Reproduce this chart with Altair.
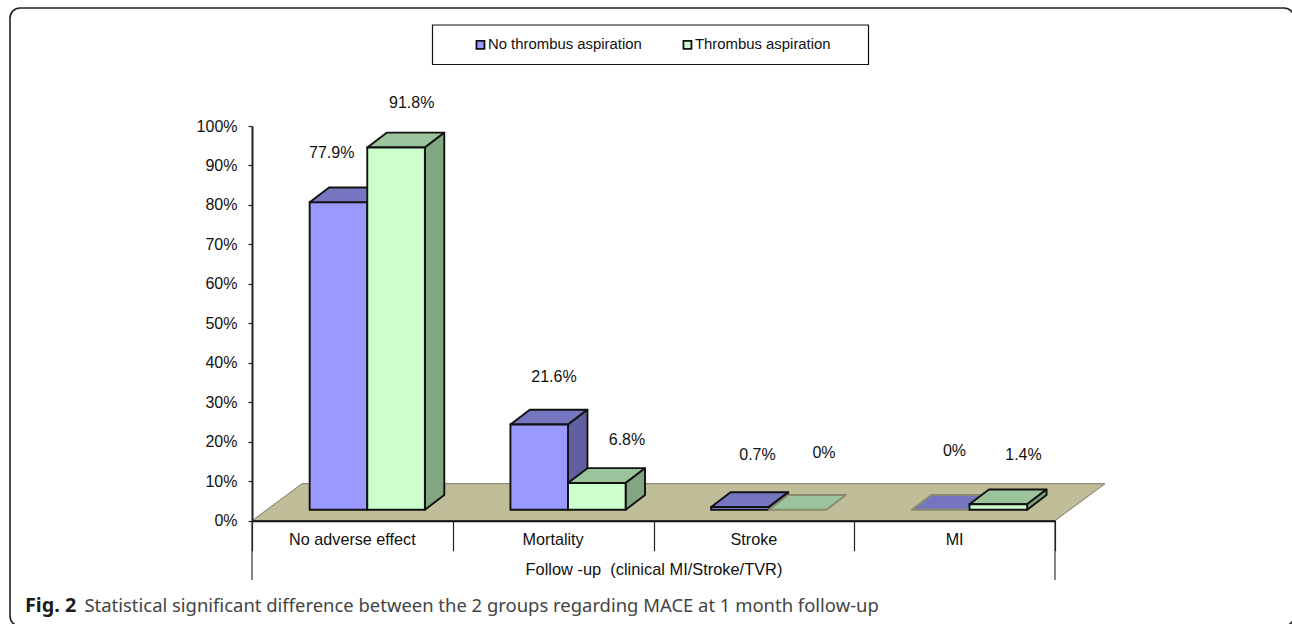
import altair as alt
import pandas as pd

# Values shown on the chart (percent of patients)
categories = ["No adverse effect", "Mortality", "Stroke", "MI"]
no_aspiration = [77.9, 21.6, 0.7, 0]
with_aspiration = [91.8, 6.8, 0, 1.4]
group_names = ["No thrombus aspiration", "Thrombus aspiration"]
y_ticks = list(range(0, 101, 10))

# Drawing geometry: the plot box, then the pseudo-3D projection in pixels
LEFT, TOP, WIDTH, HEIGHT = 252, 126, 803, 394.7
PAGE_W, PAGE_H = 1292, 624
PX_X = 4 / WIDTH            # category units per pixel
PX_Y = 100 / HEIGHT         # percent per pixel
BAR_W = 57.6 * PX_X
BAR_DX, BAR_DY = 19.4 * PX_X, 14.8 * PX_Y
BASE_Y = 10.9 * PX_Y        # bars stand on the middle of the floor
BAR_SHIFT = 14.9 * PX_X     # and sit slightly right of the category centre
FLOOR_DX, FLOOR_DY = 50 * PX_X, 37 * PX_Y
LABEL_SIZE = 16
EDGE_WIDTH = 1.9


def page_x(px):
    return (px - LEFT) * PX_X


def page_y(px):
    return (TOP + HEIGHT - px) * PX_Y


def faces(values, series):
    """Front, top and side faces of one series of bars, in data units."""
    front, top, side = [], [], []
    for i, v in enumerate(values):
        x0 = i + 0.5 + BAR_SHIFT + (series - 1) * BAR_W
        x1 = x0 + BAR_W
        y1 = BASE_Y + v
        key = f"{series}-{i}"
        outline = "#111111" if v > 0 else "#8a8a70"
        top += [
            {"face": key, "y": y1, "a": x0, "b": x1, "outline": outline},
            {"face": key, "y": y1 + BAR_DY, "a": x0 + BAR_DX, "b": x1 + BAR_DX, "outline": outline},
        ]
        if v > 0:
            front.append({"a": x0, "b": x1, "lo": BASE_Y, "hi": y1, "group": group_names[series]})
            side += [
                {"face": key, "x": x1, "lo": BASE_Y, "hi": y1},
                {"face": key, "x": x1 + BAR_DX, "lo": BASE_Y + BAR_DY, "hi": y1 + BAR_DY},
            ]
    return pd.DataFrame(front), pd.DataFrame(top), pd.DataFrame(side)


x_plain = alt.X("x:Q", scale=alt.Scale(domain=[0, 4]), axis=None, stack=None)
y_plain = alt.Y("y:Q", scale=alt.Scale(domain=[0, 100]), axis=None, stack=None)

color_scale = alt.Scale(domain=group_names, range=["#9999FF", "#CCFFCC"])


def bar_layers(values, series, top_fill, side_fill, legend):
    front, top, side = faces(values, series)
    top_layer = alt.Chart(top).mark_area(orient="horizontal", strokeWidth=EDGE_WIDTH, strokeJoin="round", fill=top_fill).encode(
        y=alt.Y("y:Q", stack=None, axis=None),
        x=alt.X("a:Q", stack=None, axis=None),
        x2="b:Q",
        detail="face:N",
        stroke=alt.Stroke("outline:N", scale=None),
    )
    side_layer = alt.Chart(side).mark_area(stroke="#111111", strokeWidth=EDGE_WIDTH, strokeJoin="round", fill=side_fill).encode(
        x=alt.X("x:Q", stack=None, axis=None),
        y=alt.Y("lo:Q", stack=None, axis=None),
        y2="hi:Q",
        detail="face:N",
    )
    front_layer = alt.Chart(front).mark_rect(stroke="#111111", strokeWidth=EDGE_WIDTH).encode(
        x=alt.X("a:Q", axis=None),
        x2="b:Q",
        y=alt.Y("lo:Q", axis=None),
        y2="hi:Q",
        color=alt.Color("group:N", scale=color_scale, legend=legend),
    )
    return [top_layer, side_layer, front_layer]


legend = alt.Legend(
    title=None,
    orient="none",
    legendX=473 - LEFT,
    legendY=37 - TOP,
    direction="horizontal",
    symbolType="square",
    symbolSize=64,
    symbolStrokeColor="#111111",
    symbolStrokeWidth=1.8,
    symbolOpacity=1,
    labelFont="Liberation Sans",
    labelFontSize=14.9,
    labelColor="#111111",
    labelOffset=0,
    columnPadding=37,
    padding=0,
)

# Box that holds the legend
legend_box = alt.Chart(pd.DataFrame({
    "a": [page_x(432.5)], "b": [page_x(868.5)], "lo": [page_y(64.5)], "hi": [page_y(25)],
})).mark_rect(fill="white", stroke="#111111", strokeWidth=1.2).encode(
    x=alt.X("a:Q", axis=None), x2="b:Q", y=alt.Y("lo:Q", axis=None), y2="hi:Q"
)

# Floor of the 3D box; this layer also carries both axes
floor = pd.DataFrame([
    {"y": 0, "a": 0, "b": 4},
    {"y": FLOOR_DY, "a": FLOOR_DX, "b": 4 + FLOOR_DX},
])
floor_layer = alt.Chart(floor).mark_area(orient="horizontal", fill="#C0BE98", stroke="#77776a", strokeWidth=1).encode(
    y=alt.Y(
        "y:Q",
        stack=None,
        scale=alt.Scale(domain=[0, 100]),
        title=None,
        axis=alt.Axis(
            values=y_ticks,
            labelExpr="datum.value + '%'",
            labelFont="Liberation Sans",
            labelFontSize=LABEL_SIZE,
            labelColor="#111111",
            labelPadding=11,
            tickSize=4,
            tickColor="#222222",
            tickWidth=1.2,
            domainColor="#222222",
            domainWidth=2,
            grid=False,
            zindex=1,
        ),
    ),
    x=alt.X(
        "a:Q",
        stack=None,
        scale=alt.Scale(domain=[0, 4]),
        title="Follow -up \u00a0(clinical MI/Stroke/TVR)",
        axis=alt.Axis(
            values=[0, 1, 2, 3, 4],
            labels=False,
            tickSize=30,
            tickColor="#222222",
            tickWidth=1.2,
            domainColor="#111111",
            domainWidth=2,
            grid=False,
            zindex=1,
            titleFont="Liberation Sans",
            titleFontSize=16.4,
            titleFontWeight="normal",
            titleColor="#111111",
            titlePadding=10,
        ),
    ),
    x2="b:Q",
)

# Taller dividers at both ends of the category axis
edge_rule = alt.Chart(pd.DataFrame({"x": [0, 4], "y": [0, 0], "y2": [page_y(580)] * 2})).mark_rule(
    color="#333333", strokeWidth=1.2
).encode(x=x_plain, y=alt.Y("y:Q", axis=None), y2="y2:Q")

# Category names under the axis
cat_df = pd.DataFrame({
    "x": [i + 0.5 for i in range(len(categories))],
    "y": [page_y(539.5)] * len(categories),
    "label": categories,
})
cat_text = alt.Chart(cat_df).mark_text(font="Liberation Sans", fontSize=16.2, color="#111111", baseline="middle").encode(
    x=x_plain, y=y_plain, text="label:N"
)

# Value labels float above the bars; each has a hand-placed anchor in pixels
label_px = [(331.7, 152.7), (411.7, 102.7), (554, 377), (627, 440), (757.5, 454.5), (824, 452.5), (954.5, 451), (1023.5, 455)]
label_values = [
    no_aspiration[0], with_aspiration[0],
    no_aspiration[1], with_aspiration[1],
    no_aspiration[2], with_aspiration[2],
    no_aspiration[3], with_aspiration[3],
]
value_df = pd.DataFrame({
    "x": [page_x(p[0]) for p in label_px],
    "y": [page_y(p[1]) for p in label_px],
    "label": [f"{v:g}%" for v in label_values],
})
value_text = alt.Chart(value_df).mark_text(font="Liberation Sans", fontSize=LABEL_SIZE, color="#111111", baseline="middle").encode(
    x=x_plain, y=y_plain, text="label:N"
)

# Rounded panel border, running off the page on the right and at the bottom
frame = alt.Chart(pd.DataFrame({"a": [page_x(10)], "b": [page_x(1294)], "lo": [page_y(626)], "hi": [page_y(8)]})).mark_rect(
    fill=None, fillOpacity=0, stroke="#222222", strokeWidth=1.6, cornerRadius=10
).encode(x=alt.X("a:Q", axis=None), x2="b:Q", y=alt.Y("lo:Q", axis=None), y2="hi:Q")

# Figure caption
cap_bold = alt.Chart(pd.DataFrame({"x": [page_x(25)], "y": [page_y(606)], "t": ["Fig. 2"]})).mark_text(
    font="Noto Sans", fontSize=19.8, fontWeight="bold", color="#1c1c1c", align="left", baseline="middle"
).encode(x=x_plain, y=y_plain, text="t:N")
cap_text = alt.Chart(pd.DataFrame({
    "x": [page_x(84.5)],
    "y": [page_y(606)],
    "t": ["Statistical significant difference between the 2 groups regarding MACE at 1 month follow-up"],
})).mark_text(font="Noto Sans", fontSize=18.45, color="#444444", align="left", baseline="middle").encode(
    x=x_plain, y=y_plain, text="t:N"
)

layers = [frame, legend_box, floor_layer]
layers += bar_layers(no_aspiration, 0, "#7676C0", "#6060A0", legend)
layers += bar_layers(with_aspiration, 1, "#9CC49C", "#82A582", legend)
layers += [edge_rule, cat_text, value_text, cap_bold, cap_text]

chart = alt.layer(*layers).resolve_axis(x="independent", y="independent").properties(
    width=WIDTH,
    height=HEIGHT,
    padding={"left": LEFT, "top": TOP, "right": PAGE_W - LEFT - WIDTH, "bottom": PAGE_H - TOP - HEIGHT},
    autosize=alt.AutoSizeParams(type="none"),
    background="white",
).configure_view(stroke=None)

chart.save("out.html", embed_options={"renderer": "svg", "actions": False})
